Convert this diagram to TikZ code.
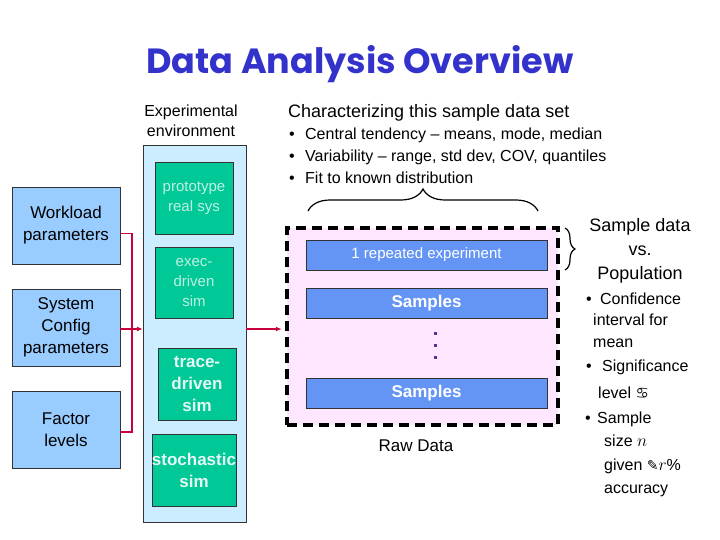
\documentclass[tikz,border=0pt]{standalone}
\usepackage{fontspec}
\setmainfont{Liberation Sans}
\newfontfamily\titlefont{Poppins}
\newfontfamily\symfont{DejaVu Sans}
\usetikzlibrary{arrows.meta,decorations.pathreplacing}

\definecolor{titleblue}{HTML}{3333CC}
\definecolor{envblue}{HTML}{CCECFF}
\definecolor{simgreen}{HTML}{00C896}
\definecolor{pargray}{HTML}{99CCFF}
\definecolor{linkred}{HTML}{C8003C}
\definecolor{rawpink}{HTML}{FFE6FF}
\definecolor{barblue}{HTML}{6495F5}
\definecolor{dotpurple}{HTML}{553399}

\tikzset{
  parbox/.style={draw=black!80, fill=pargray, minimum width=108pt, minimum height=77pt,
    align=center, inner sep=0pt, font=\fontsize{17}{22}\selectfont},
  simbox/.style={draw=black!80, fill=simgreen, minimum width=78pt, minimum height=72pt,
    align=center, inner sep=0pt},
  bar/.style={draw=black!80, fill=barblue, minimum width=241pt, minimum height=30pt,
    inner sep=0pt, text=white},
  link/.style={linkred, line width=1.6pt},
  txt/.style={inner sep=0pt, anchor=base west},
}

\begin{document}
\begin{tikzpicture}[x=1pt,y=-1pt]
\useasboundingbox (0,0) rectangle (720,540);

% Title
\node[text=titleblue, font=\titlefont\bfseries\fontsize{35}{40}\selectfont] (title) at (360,64) {Data Analysis Overview};

% Experimental environment
\node[align=center, font=\fontsize{16}{20}\selectfont] (envlbl) at (191,121) {Experimental\\environment};
\node[draw=black!80, fill=envblue, minimum width=103pt, minimum height=377pt, inner sep=0pt] (env) at (194.5,333.5) {};
\node[simbox, text=simgreen!25!white, font=\fontsize{15}{20}\selectfont] (proto) at (194,198) {prototype\\real sys};
\node[simbox, text=simgreen!25!white, font=\fontsize{15}{20}\selectfont, minimum height=71pt] (exec) at (194,282.5) {exec-\\driven\\sim};
\node[simbox, text=white!90!simgreen, font=\bfseries\fontsize{17}{22}\selectfont] (trace) at (197,384) {trace-\\driven\\sim};
\node[simbox, text=white!90!simgreen, font=\bfseries\fontsize{17}{22}\selectfont] (stoch) at (194,470) {stochastic\\sim};

% Parameters
\node[parbox] (work) at (66,225.5) {Workload\\parameters};
\node[parbox] (sysc) at (66,327.5) {System\\Config\\parameters};
\node[parbox] (fact) at (66,429.5) {Factor\\levels};

% Raw data
\node[draw=black, fill=rawpink, line width=4.5pt, dash pattern=on 10pt off 6pt,
  minimum width=271pt, minimum height=197pt, inner sep=0pt] (raw) at (422.5,326.5) {};
\node[bar, font=\fontsize{15}{18}\selectfont] (rep) at (426.5,255) {1 repeated experiment};
\node[bar, font=\bfseries\fontsize{17}{20}\selectfont] (samp) at (426.5,303) {Samples};
\node[bar, font=\bfseries\fontsize{17}{20}\selectfont] (sampn) at (426.5,393) {Samples};
\foreach \y in {333,345,357}
  \fill[dotpurple] (433.5,\y-1.5) rectangle ++(3,3);
\node[font=\fontsize{17}{20}\selectfont] (rawlbl) at (416,446) {Raw Data};

% Connectors
\coordinate (join) at (132,329);
\draw[link] ([yshift=-8pt]work.east) -| (join);
\draw[link] ([yshift=-2.5pt]fact.east) -| (join);
\draw[link, -{Latex[length=6pt,width=5pt]}] (sysc.east |- join) -- (env.west |- join);
\draw[link, -{Latex[length=6pt,width=5pt]}] (env.east |- join) -- ([xshift=-3pt]raw.west |- join);

% Characterizing
\node[txt, font=\fontsize{18}{22}\selectfont] (charz) at (288,118) {Characterizing this sample data set};
\begin{scope}[font=\fontsize{16}{20}\selectfont]
\node[txt] (c1) at (289,140) {\makebox[16pt][l]{\textbullet}Central tendency -- means, mode, median};
\node[txt] (c2) at (289,162) {\makebox[16pt][l]{\textbullet}Variability -- range, std dev, COV, quantiles};
\node[txt] (c3) at (289,184) {\makebox[16pt][l]{\textbullet}Fit to known distribution};
\end{scope}
\draw[line width=1.2pt, decorate, decoration={brace, amplitude=22pt}] (308,211) -- (538,211);

% Sample vs population
\draw[line width=1.2pt, decorate, decoration={brace, amplitude=10pt}] (565,228) -- (565,270);
\node[align=center, font=\fontsize{18}{24}\selectfont] (pop) at (640,251) {Sample data\\vs.\\Population};
\begin{scope}[font=\fontsize{16}{20}\selectfont]
\node[txt] (p1) at (586,304) {\makebox[14pt][l]{\textbullet}Confidence};
\node[txt] (p2) at (593,325) {interval for};
\node[txt] (p3) at (593,347) {mean};
\node[txt] (p4) at (586,371) {\makebox[16pt][l]{\textbullet}Significance};
\node[txt] (p5) at (598,398) {level {\symfont\fontsize{15}{18}\selectfont ♋}};
\node[txt] (p6) at (585,423) {\makebox[12pt][l]{\textbullet}Sample};
\node[txt] (p7) at (604,446) {size $n$};
\node[txt] (p8) at (604,470) {given {\symfont\fontsize{14}{18}\selectfont ✎}$r$\%};
\node[txt] (p9) at (604,493) {accuracy};
\end{scope}

\end{tikzpicture}
\end{document}
